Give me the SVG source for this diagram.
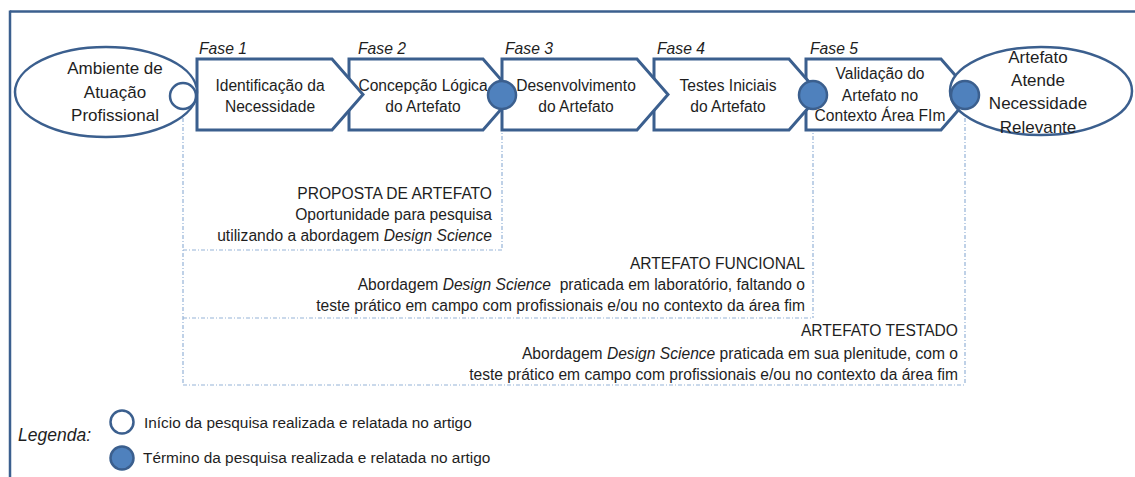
<svg xmlns="http://www.w3.org/2000/svg" width="1135" height="477" viewBox="0 0 1135 477">
<style>
text{font-family:"Liberation Sans",Arial,sans-serif;fill:#1e1e1e}
.chev{fill:#fff;stroke:#3b5f8e;stroke-width:3;stroke-linejoin:miter}
.ell{fill:#fff;stroke:#3b5f8e;stroke-width:2.5}
.open{fill:#fff;stroke:#3b5f8e;stroke-width:2.5}
.full{fill:#4f81bd;stroke:#3b5f8e;stroke-width:2.5}
.dot{fill:none;stroke:#95b3d7;stroke-width:1.2;stroke-dasharray:4 2 1 2}
.et{font-size:17px;text-anchor:middle}
.ct{font-size:15.6px;text-anchor:middle}
.fase{font-size:15.7px;font-style:italic}
.bt{font-size:15.6px;text-anchor:end}
.lg{font-size:15.4px}
.it{font-style:italic}
</style>
<g id="frame">
<line x1="10" y1="11.5" x2="1135" y2="11.5" stroke="#3b5f8e" stroke-width="2.5"/>
<line x1="10" y1="10.5" x2="10" y2="477" stroke="#3b5f8e" stroke-width="2.5"/>
</g>
<g id="connectors">
<line class="dot" x1="183" y1="109" x2="183" y2="385"/>
<line class="dot" x1="502" y1="109" x2="502" y2="250"/>
<line class="dot" x1="813" y1="109" x2="813" y2="318"/>
<line class="dot" x1="965" y1="109" x2="965" y2="385"/>
<line class="dot" x1="183" y1="250" x2="502" y2="250"/>
<line class="dot" x1="183" y1="318" x2="813" y2="318"/>
<line class="dot" x1="183" y1="385" x2="965" y2="385"/>
</g>
<g id="fase5">
<polygon class="chev" points="806,59 941,59 972,94.5 941,130 806,130"/>
<text class="fase" x="810" y="54">Fase 5</text>
<text class="ct" x="880" y="78.5">Validação do</text>
<text class="ct" x="880" y="100.5">Artefato no</text>
<text class="ct" x="880" y="120.5">Contexto Área FIm</text>
</g>
<g id="fase4">
<polygon class="chev" points="654,59 789,59 820,94.5 789,130 654,130"/>
<text class="fase" x="657" y="54">Fase 4</text>
<text class="ct" x="728" y="90.5">Testes Iniciais</text>
<text class="ct" x="728" y="111.5">do Artefato</text>
</g>
<g id="fase3">
<polygon class="chev" points="502,59 637,59 668,94.5 637,130 502,130"/>
<text class="fase" x="505" y="54">Fase 3</text>
<text class="ct" x="576" y="90.5">Desenvolvimento</text>
<text class="ct" x="576" y="111.5">do Artefato</text>
</g>
<g id="fase2">
<polygon class="chev" points="349,59 483,59 514,94.5 483,130 349,130"/>
<text class="fase" x="358" y="54">Fase 2</text>
<text class="ct" x="423" y="90.5">Concepção Lógica</text>
<text class="ct" x="423" y="111.5">do Artefato</text>
</g>
<g id="fase1">
<polygon class="chev" points="197,59 332,59 363,94.5 332,130 197,130"/>
<text class="fase" x="199" y="54">Fase 1</text>
<text class="ct" x="270" y="90.5">Identificação da</text>
<text class="ct" x="270" y="111.5">Necessidade</text>
</g>
<g id="ambiente">
<ellipse class="ell" cx="106" cy="92" rx="91" ry="45"/>
<text class="et" x="115" y="74">Ambiente de</text>
<text class="et" x="115" y="98">Atuação</text>
<text class="et" x="115" y="121">Profissional</text>
</g>
<g id="artefato-atende">
<ellipse class="ell" cx="1041" cy="91" rx="91" ry="44"/>
<text class="et" x="1038" y="63">Artefato</text>
<text class="et" x="1038" y="86">Atende</text>
<text class="et" x="1038" y="109">Necessidade</text>
<text class="et" x="1038" y="133">Relevante</text>
</g>
<g id="marcos">
<circle class="open" cx="183" cy="96" r="13"/>
<circle class="full" cx="502" cy="95" r="14"/>
<circle class="full" cx="813" cy="95" r="14"/>
<circle class="full" cx="965" cy="95" r="14"/>
</g>
<g id="proposta">
<text class="bt" x="492" y="198.5">PROPOSTA DE ARTEFATO</text>
<text class="bt" x="492" y="220">Oportunidade para pesquisa</text>
<text class="bt" x="492" y="240.5">utilizando a abordagem <tspan class="it">Design Science</tspan></text>
</g>
<g id="funcional">
<text class="bt" x="805" y="268.5">ARTEFATO FUNCIONAL</text>
<text class="bt" x="805" y="290" xml:space="preserve">Abordagem <tspan class="it">Design Science</tspan>  praticada em laboratório, faltando o</text>
<text class="bt" x="805" y="311">teste prático em campo com profissionais e/ou no contexto da área fim</text>
</g>
<g id="testado">
<text class="bt" x="958" y="336">ARTEFATO TESTADO</text>
<text class="bt" x="958" y="358.5">Abordagem <tspan class="it">Design Science</tspan> praticada em sua plenitude, com o</text>
<text class="bt" x="958" y="380">teste prático em campo com profissionais e/ou no contexto da área fim</text>
</g>
<g id="legenda">
<text x="18" y="441" font-size="17.5" font-style="italic">Legenda:</text>
<circle class="open" cx="122" cy="422" r="11.5"/>
<circle class="full" cx="122" cy="458" r="11.5"/>
<text class="lg" x="144" y="428">Início da pesquisa realizada e relatada no artigo</text>
<text class="lg" x="143" y="463">Término da pesquisa realizada e relatada no artigo</text>
</g>
</svg>
